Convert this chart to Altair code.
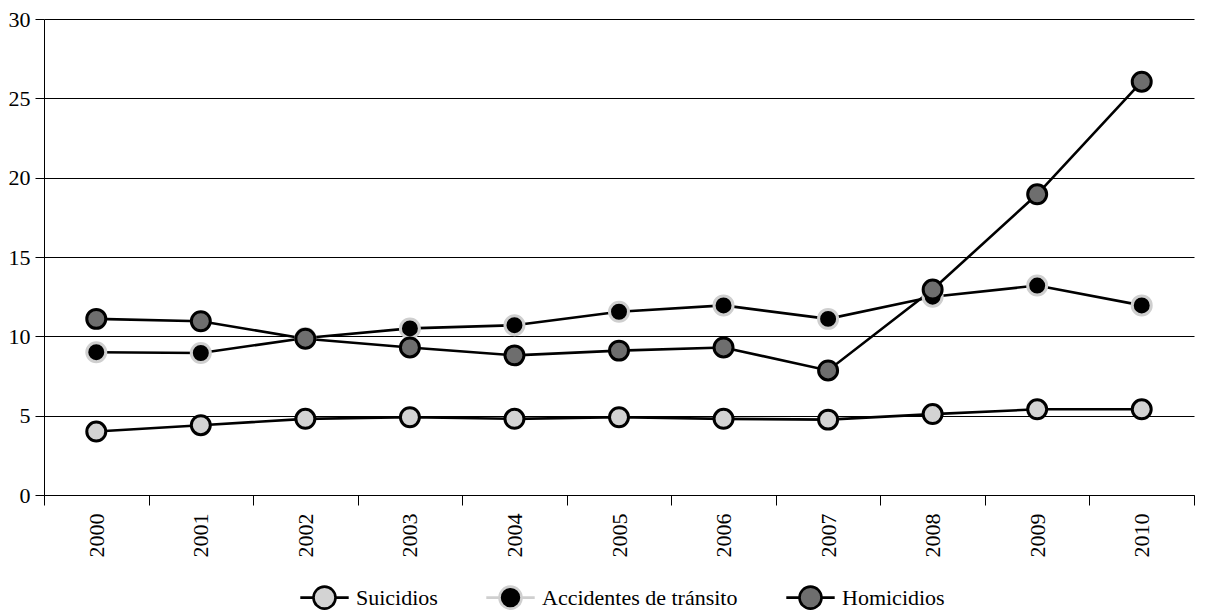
import altair as alt
import pandas as pd

years = [str(y) for y in range(2000, 2011)]
suicidios = [4.0, 4.4, 4.8, 4.9, 4.8, 4.9, 4.8, 4.75, 5.1, 5.4, 5.4]
accidentes = [9.0, 8.95, 9.9, 10.5, 10.7, 11.55, 11.95, 11.1, 12.5, 13.2, 11.95]
homicidios = [11.1, 10.95, 9.85, 9.3, 8.8, 9.1, 9.3, 7.85, 12.95, 18.95, 26.05]
series = ["Suicidios", "Accidentes de tránsito", "Homicidios"]
fills = ["#d3d3d3", "#000000", "#6e6e6e"]
strokes = ["#000000", "#cfcfcf", "#000000"]

rows = []
for name, vals in zip(series, [suicidios, accidentes, homicidios]):
    for y, v in zip(years, vals):
        rows.append({"year": y, "value": v, "series": name, "order": series.index(name)})
df = pd.DataFrame(rows)

FONT = "Liberation Serif, Times New Roman, serif"
FS = 22
legend_path = "M-2.2,0L-1,0M1,0L2.2,0M-1,0A1,1 0 1,1 1,0A1,1 0 1,1 -1,0Z"

x = alt.X("year:N", sort=years,
          scale=alt.Scale(paddingInner=0, paddingOuter=0),
          axis=alt.Axis(title=None, labelAngle=270, labelAlign="right", labelBaseline="middle",
                        labelPadding=8, tickSize=10, tickBand="extent", grid=False,
                        labelFontSize=FS, labelFont=FONT, labelColor="black",
                        domainColor="black", tickColor="black"))
y = alt.Y("value:Q", scale=alt.Scale(domain=[0, 30], nice=False),
          axis=alt.Axis(title=None, values=[0, 5, 10, 15, 20, 25, 30], tickSize=9,
                        grid=True, gridColor="black", gridOpacity=1, gridWidth=1,
                        domainColor="black", tickColor="black",
                        labelFontSize=FS, labelFont=FONT, labelColor="black", labelPadding=5))

lines = alt.Chart(df).mark_line(color="black", strokeWidth=2.6).encode(
    x=x, y=y, detail="series:N", order="year:N"
)

points = alt.Chart(df).mark_point(filled=True, size=360, strokeWidth=3, opacity=1).encode(
    x=x, y=y,
    fill=alt.Fill("series:N", sort=series,
                  scale=alt.Scale(domain=series, range=fills),
                  legend=alt.Legend(title=None, orient="none", direction="horizontal",
                                    legendX=268, legendY=566,
                                    symbolType=legend_path, symbolSize=484,
                                    symbolStrokeColor="black", symbolStrokeWidth=2.6,
                                    labelFont=FONT, labelFontSize=FS, labelColor="black",
                                    labelLimit=500,
                                    labelOffset=19, columnPadding=43)),
    stroke=alt.Stroke("series:N", scale=alt.Scale(domain=series, range=strokes), legend=None),
    order=alt.Order("order:Q"),
)

chart = alt.layer(lines, points).properties(
    width=1150, height=476, padding={"top": 0, "left": 0, "right": 0, "bottom": 0}
).configure_view(stroke=None)

chart.save("out.html", embed_options={"renderer": "svg", "actions": False})
